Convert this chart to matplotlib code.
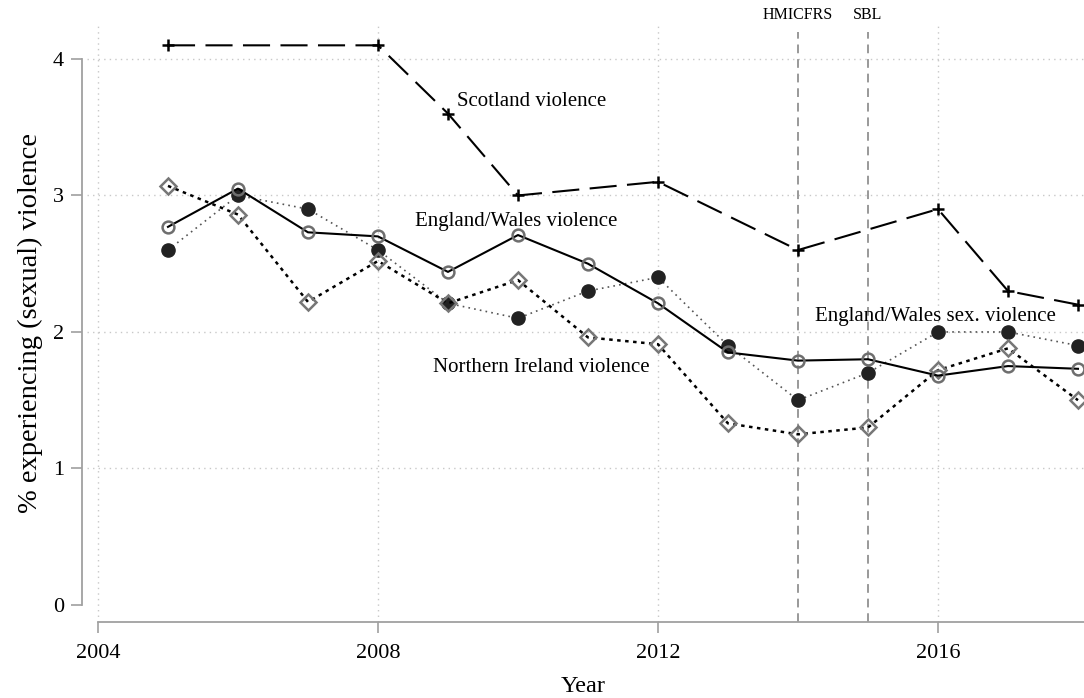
import numpy as np
import matplotlib.pyplot as plt

plt.rcParams['font.family'] = ['Liberation Serif', 'DejaVu Serif']

years = np.arange(2005, 2019)

# Scotland only surveyed in some years
scot_years = [2005, 2008, 2009, 2010, 2012, 2014, 2016, 2017, 2018]
scot_viol = [4.1, 4.1, 3.6, 3.0, 3.1, 2.6, 2.9, 2.3, 2.2]

ew_viol = [2.77, 3.05, 2.73, 2.70, 2.44, 2.71, 2.50, 2.21, 1.85, 1.79, 1.80, 1.68, 1.75, 1.73]
ni_viol = [3.07, 2.86, 2.22, 2.52, 2.21, 2.38, 1.96, 1.91, 1.33, 1.25, 1.30, 1.72, 1.88, 1.50]
ew_sex = [2.60, 3.00, 2.90, 2.60, 2.21, 2.10, 2.30, 2.40, 1.90, 1.50, 1.70, 2.00, 2.00, 1.90]

events = [2014, 2015]
event_labels = ['HMICFRS', 'SBL']

xticks = [2004, 2008, 2012, 2016]
yticks = [0, 1, 2, 3, 4]

fig = plt.figure(figsize=(10.84, 6.98), dpi=100)
ax = fig.add_axes([0.0756, 0.1089, 0.9244, 0.8553])
ax.set_xlim(2003.771, 2018.086)
ax.set_ylim(-0.125, 4.249)

# dotted grid
for y in yticks[1:]:
    ax.axhline(y, xmin=0.005, color='#c8c8c8', lw=1.0, dashes=(1, 3), zorder=0)
for x in xticks:
    ax.axvline(x, color='#c8c8c8', lw=1.0, dashes=(1, 3), zorder=0)

# policy events
ax.vlines(events, -0.125, 4.2, colors='#999999', lw=1.4, linestyles=(0, (4.5, 3)), zorder=1)
for x, lab in zip(events, event_labels):
    ax.text(x, 4.32, lab, ha='center', va='center', fontsize=11.5, clip_on=False)

ax.plot(years, ew_sex, color='#555555', lw=1.2, dashes=(1, 2.5),
        marker='o', ms=9.5, mfc='#222222', mec='#222222', zorder=3)
ax.plot(years, ni_viol, color='black', lw=1.8, dashes=(1.4, 1.8),
        marker='D', ms=8.5, mfc='none', mec='#777777', mew=1.8, zorder=4)
ax.plot(years, ew_viol, color='black', lw=1.5,
        marker='o', ms=8.5, mfc='none', mec='#6e6e6e', mew=1.8, zorder=5)
ax.plot(scot_years, scot_viol, color='black', lw=1.5, dashes=(13, 5),
        marker='+', ms=9, mew=1.8, mec='black', zorder=6)

ax.text(2009.13, 3.69, 'Scotland violence', fontsize=15, va='center')
ax.text(2008.53, 2.81, 'England/Wales violence', fontsize=15, va='center')
ax.text(2008.79, 1.74, 'Northern Ireland violence', fontsize=15, va='center')
ax.text(2014.24, 2.11, 'England/Wales sex. violence', fontsize=15, va='center')

for side in ['top', 'right']:
    ax.spines[side].set_visible(False)
ax.spines['left'].set_bounds(0, 4)
ax.spines['bottom'].set_bounds(2004, 2018.086)
for side in ['left', 'bottom']:
    ax.spines[side].set_color('#a0a0a0')
    ax.spines[side].set_linewidth(1.3)

ax.set_xticks(xticks)
ax.set_yticks(yticks)
ax.tick_params(axis='both', colors='#a0a0a0', labelcolor='black', length=8,
               width=1.2, labelsize=16)
ax.tick_params(axis='y', pad=5)
ax.tick_params(axis='x', pad=8)

ax.set_xlabel('Year', fontsize=17.5, labelpad=9)
ax.set_ylabel('% experiencing (sexual) violence', fontsize=20.5, labelpad=7)

fig.savefig('out.png', dpi=100)
